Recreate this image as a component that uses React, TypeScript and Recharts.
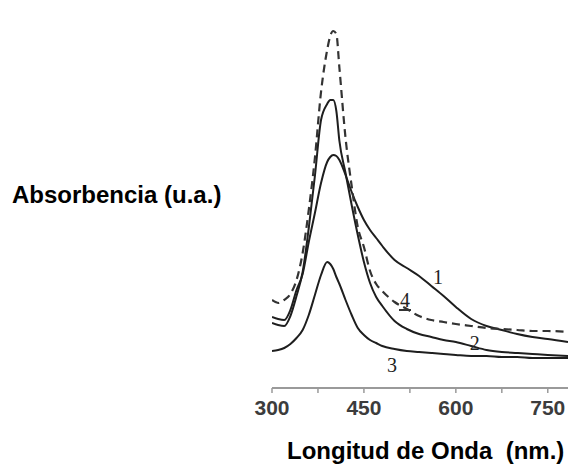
import React from "react";
import {
	LineChart,
	Line,
	XAxis,
	YAxis,
	ReferenceDot,
} from "recharts";

// wavelength grid (nm)
const WAVELENGTH = [
	300, 310, 320, 330, 340, 350, 360, 370, 380, 390, 395, 400, 405, 410, 420,
	430, 440, 450, 460, 470, 480, 500, 520, 540, 560, 580, 600, 625, 650, 675,
	700, 725, 750, 783,
];

// absorbance, arbitrary units
const CURVE_1 = [
	71, 69, 68, 78, 98, 114, 146, 175, 205, 226, 231, 233, 232, 228, 213, 196,
	181, 168, 158, 150, 142, 128, 120, 112, 102, 92, 81, 69, 62, 58, 54, 51, 49,
	46,
];
const CURVE_2 = [
	65, 63, 62, 72, 92, 116, 160, 212, 268, 284, 288, 288, 277, 247, 215, 183,
	153, 126, 105, 91, 82, 67, 59, 54, 51, 48, 46, 42, 38, 36, 35, 34, 33, 32,
];
const CURVE_3 = [
	37, 38, 40, 44, 50, 58, 73, 93, 113, 126, 124, 119, 111, 104, 88, 73, 60,
	53, 48, 45, 42, 39, 37, 36, 35, 34, 33, 32, 32, 31, 31, 30, 30, 30,
];
const CURVE_4 = [
	88, 85, 88, 94, 108, 135, 178, 230, 296, 338, 352, 357, 354, 320, 250, 202,
	161, 141, 117, 104, 97, 86, 79, 72, 68, 66, 64, 62, 60, 59, 58, 57, 57, 56,
];

const X_TICKS = [300, 375, 450, 525, 600, 675, 750];
const X_LABELS = [300, 450, 600, 750];

// curve number tags: [label, wavelength, absorbance]
const TAGS: [string, number, number][] = [
	["1", 571, 111],
	["4", 517, 88],
	["2", 631, 45],
	["3", 496, 23],
];

const data = WAVELENGTH.map((w, i) => ({
	w,
	c1: CURVE_1[i],
	c2: CURVE_2[i],
	c3: CURVE_3[i],
	c4: CURVE_4[i],
}));

const XTick = (props: any) => {
	const { x, y, payload } = props;
	if (!X_LABELS.includes(payload.value)) return <g />;
	return (
		<text
			x={x}
			y={y + 22}
			textAnchor="middle"
			fill="#3c3c3c"
			fontSize={21}
			fontWeight="bold"
			fontFamily="Liberation Sans, Arial, sans-serif"
		>
			{payload.value}
		</text>
	);
};

const tagLabel = (text: string) => (props: any) => {
	const vb = props.viewBox || {};
	const cx = (vb.x ?? 0) + (vb.width ?? 0) / 2;
	const cy = (vb.y ?? 0) + (vb.height ?? 0) / 2;
	return (
		<g>
			<text
				x={cx}
				y={cy + 7}
				textAnchor="middle"
				fill="#222"
				fontSize={20}
				fontFamily="Liberation Serif, Times New Roman, serif"
			>
				{text}
			</text>
			{text === "4" && (
				<line x1={cx - 6} x2={cx + 6} y1={cy + 10} y2={cy + 10} stroke="#333" strokeWidth={2} />
			)}
		</g>
	);
};

export default function App() {
	return (
		<div style={{ position: "absolute", left: 0, top: 0, width: 568, height: 471, background: "#fff" }}>
			<LineChart
				width={568}
				height={471}
				data={data}
				margin={{ top: 9, right: 0, bottom: 53, left: 272 }}
			>
				<XAxis
					dataKey="w"
					type="number"
					domain={[300, 783]}
					ticks={X_TICKS}
					allowDataOverflow
					height={30}
					tickSize={5}
					tickMargin={0}
					tick={<XTick />}
					axisLine={{ stroke: "#9a9a9a", strokeWidth: 2 }}
					tickLine={{ stroke: "#9a9a9a", strokeWidth: 1.5 }}
				/>
				<YAxis
					type="number"
					domain={[0, 379]}
					width={0}
					tick={false}
					tickLine={false}
					axisLine={{ stroke: "#b0b0b0", strokeWidth: 2.5 }}
				/>
				<Line type="monotone" dataKey="c3" stroke="#1e1e1e" strokeWidth={2} dot={false} isAnimationActive={false} />
				<Line type="monotone" dataKey="c2" stroke="#1e1e1e" strokeWidth={2} dot={false} isAnimationActive={false} />
				<Line type="monotone" dataKey="c1" stroke="#1e1e1e" strokeWidth={2} dot={false} isAnimationActive={false} />
				<Line
					type="monotone"
					dataKey="c4"
					stroke="#333"
					strokeWidth={2.2}
					strokeDasharray="8 5"
					dot={false}
					isAnimationActive={false}
				/>
				{TAGS.map(([t, x, y]) => (
					<ReferenceDot key={t} x={x} y={y} r={0} fill="none" stroke="none" label={tagLabel(t)} />
				))}
			</LineChart>
			<div
				style={{
					position: "absolute",
					left: 12,
					top: 183,
					fontFamily: "Liberation Sans, Arial, sans-serif",
					fontWeight: "bold",
					fontSize: 24,
					lineHeight: 1,
					whiteSpace: "pre",
					color: "#000",
				}}
			>
				Absorbencia (u.a.)
			</div>
			<div
				style={{
					position: "absolute",
					left: 287,
					top: 439,
					fontFamily: "Liberation Sans, Arial, sans-serif",
					fontWeight: "bold",
					fontSize: 24,
					lineHeight: 1,
					whiteSpace: "pre",
					color: "#000",
				}}
			>
				Longitud de Onda  (nm.)
			</div>
		</div>
	);
}
